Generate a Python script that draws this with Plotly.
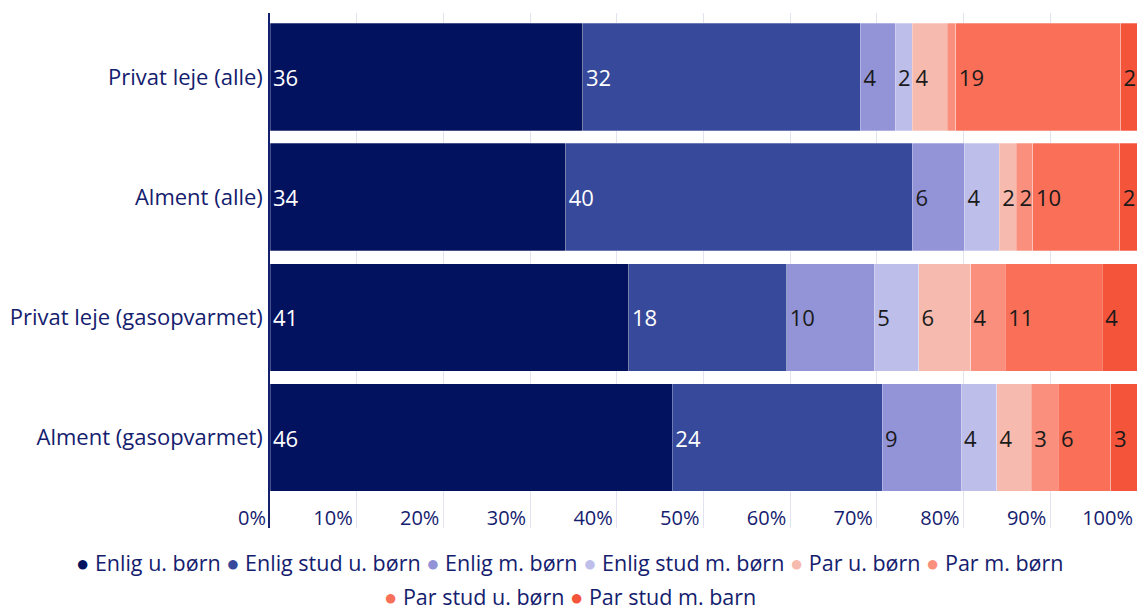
import plotly.graph_objects as go

categories = ["Privat leje (alle)", "Alment (alle)", "Privat leje (gasopvarmet)", "Alment (gasopvarmet)"]

series_names = ["Enlig u. børn", "Enlig stud u. børn", "Enlig m. børn", "Enlig stud m. børn",
                "Par u. børn", "Par m. børn", "Par stud u. børn", "Par stud m. barn"]

enlig_u_born = [36.1, 34.1, 41.4, 46.4]
enlig_stud_u_born = [32.0, 40.0, 18.2, 24.2]
enlig_m_born = [4.0, 6.0, 10.1, 9.1]
enlig_stud_m_born = [2.0, 4.0, 5.1, 4.1]
par_u_born = [4.0, 2.0, 6.0, 4.0]
par_m_born = [1.0, 1.9, 4.0, 3.1]
par_stud_u_born = [19.0, 10.0, 11.2, 6.1]
par_stud_m_barn = [1.9, 2.0, 4.0, 3.0]

series_values = [enlig_u_born, enlig_stud_u_born, enlig_m_born, enlig_stud_m_born,
                 par_u_born, par_m_born, par_stud_u_born, par_stud_m_barn]

colors = ["#03125F", "#37499A", "#9294D7", "#BDBEEA", "#F7BAAF", "#F98F7C", "#F96F58", "#F4543A"]
label_colors = ["#FFFFFF", "#FFFFFF", "#1A1A1A", "#1A1A1A", "#1A1A1A", "#1A1A1A", "#1A1A1A", "#1A1A1A"]

tick_vals = [0, 10, 20, 30, 40, 50, 60, 70, 80, 90, 100]
tick_text = [f"{v}%" for v in tick_vals]

NAVY = "#14206E"
FONT = "Open Sans"

W, H = 1139, 612
ML, MR, MT, MB = 270, 2, 13, 84
PW = W - ML - MR
PH = H - MT - MB

fig = go.Figure()
for name, vals, col, lcol in zip(series_names, series_values, colors, label_colors):
    fig.add_trace(go.Bar(
        y=categories, x=vals, name=name, orientation="h",
        marker=dict(color=col, line=dict(width=0.6, color="rgba(255,255,255,0.45)")),
        text=[f"{round(v)}" if v >= 1.5 else "" for v in vals],
        textposition="inside", insidetextanchor="start", constraintext="none",
        textfont=dict(family=FONT, size=22, color=lcol),
        showlegend=False, hoverinfo="x+name",
    ))

# legend drawn as centred text rows (centred on the whole figure)
def legend_row(names, cols):
    parts = []
    for n, c in zip(names, cols):
        parts.append(f"<span style='color:{c};font-size:22px'>●</span> {n}")
    return " ".join(parts)

x_center = (W / 2 - ML) / PW
for txt, ypx in [(legend_row(series_names[:6], colors[:6]), 562),
                 (legend_row(series_names[6:], colors[6:]), 596)]:
    fig.add_annotation(text=txt, xref="paper", yref="paper",
                       x=x_center, y=-(ypx - (MT + PH)) / PH,
                       xanchor="center", yanchor="middle", showarrow=False,
                       font=dict(family=FONT, size=21.5, color=NAVY))

fig.update_layout(
    barmode="stack", bargap=0.106,
    width=W, height=H,
    margin=dict(l=ML, r=MR, t=MT, b=MB, autoexpand=False),
    paper_bgcolor="white", plot_bgcolor="white",
    font=dict(family=FONT, color=NAVY, size=20),
)
fig.update_xaxes(
    range=[0, 100], tickvals=tick_vals, ticktext=tick_text, automargin=False,
    showgrid=True, gridcolor="#E1E3F1", gridwidth=1, zeroline=False,
    ticklabelposition="inside left", ticklabeloverflow="allow",
    ticklabelshift=-4, ticklabelstandoff=-7,
    tickfont=dict(family=FONT, size=20, color=NAVY), showline=False,
)
fig.update_yaxes(
    type="category", categoryorder="array", categoryarray=categories,
    range=[3.753, -0.533], showgrid=False, zeroline=False, automargin=False,
    showline=True, linecolor=NAVY, linewidth=1.5,
    ticks="", ticklabelstandoff=1,
    tickfont=dict(family=FONT, size=22, color=NAVY),
)

fig.write_html("out.html", config={"displayModeBar": False},
               post_script="document.body.style.margin='0';document.body.style.overflow='hidden';")
